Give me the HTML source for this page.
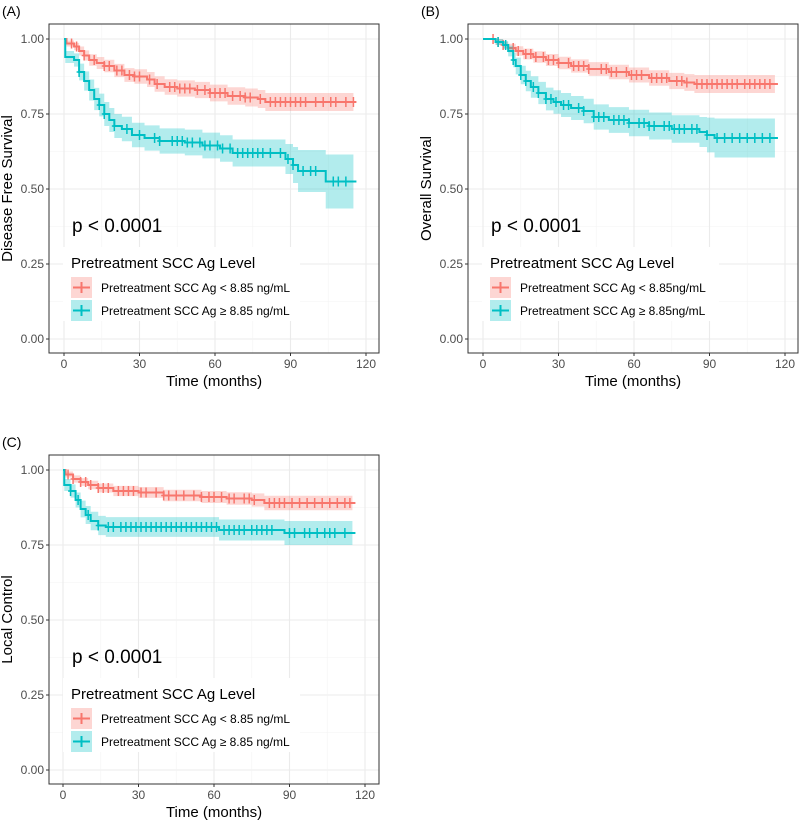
<!DOCTYPE html>
<html><head><meta charset="utf-8"><style>
body{margin:0;background:#fff}
svg{display:block;font-family:"Liberation Sans",sans-serif}
</style></head><body>
<svg id="chart" width="800" height="820" viewBox="0 0 800 820"></svg>
<script>
const xTicks=[0,30,60,90,120];
const yTicks=[0,0.25,0.5,0.75,1];
const yTickLabels=["0.00","0.25","0.50","0.75","1.00"];
// Panel A
const aLowT=[0,1,4,6,8,10,13,16,20,24,28,33,36,40,45,52,58,65,72,77,80,115];
const aLowS=[1,0.985,0.975,0.96,0.945,0.93,0.92,0.91,0.895,0.88,0.875,0.865,0.85,0.84,0.835,0.83,0.82,0.81,0.805,0.80,0.79,0.79];
const aLowCI=[0,0.01,0.012,0.015,0.017,0.019,0.02,0.021,0.022,0.023,0.024,0.025,0.026,0.026,0.027,0.027,0.028,0.029,0.03,0.03,0.03,0.03];
const aLowCens=[3,5,8,12,16,18,21,23,26,28,30,34,37,42,44,46,48,50,53,56,58,60,62,64,67,70,72,74,78,82,84,86,88,90,92,94,96,100,103,106,108,112,115];
const aHighT=[0,0.5,4,6,8,10,12,14,16,18,20,23,27,32,38,48,55,62,67,87,88,91,93,104,115];
const aHighS=[1,0.94,0.93,0.89,0.86,0.83,0.80,0.78,0.75,0.73,0.71,0.70,0.68,0.67,0.66,0.655,0.645,0.635,0.62,0.62,0.60,0.58,0.56,0.525,0.525];
const aHighCI=[0,0.02,0.022,0.028,0.032,0.035,0.037,0.038,0.04,0.04,0.04,0.041,0.041,0.042,0.042,0.043,0.043,0.044,0.045,0.045,0.05,0.06,0.07,0.09,0.09];
const aHighCens=[6,14,16,20,25,30,36,38,43,45,47,49,51,54,56,58,61,63,66,69,71,73,75,77,79,82,86,89,91,95,98,100,107,109,112];
// Panel B
const bLowT=[0,3,5,8,10,13,16,20,25,30,35,42,50,58,66,74,80,84,116];
const bLowS=[1,1,0.99,0.98,0.97,0.96,0.95,0.94,0.93,0.92,0.91,0.90,0.89,0.88,0.87,0.86,0.855,0.85,0.85];
const bLowCI=[0,0,0.01,0.012,0.014,0.016,0.018,0.019,0.02,0.021,0.022,0.023,0.024,0.025,0.026,0.027,0.028,0.03,0.03];
const bLowCens=[4,6,8,12,14,17,19,21,24,26,28,30,34,36,38,40,42,47,49,51,53,57,59,61,63,67,69,71,73,77,79,81,85,87,89,91,93,95,97,99,101,104,106,108,110,112,114];
const bHighT=[0,5,8,10,12,13,15,17,19,22,25,28,31,35,40,44,50,58,66,75,86,89,92,116];
const bHighS=[1,0.99,0.98,0.96,0.93,0.91,0.88,0.86,0.84,0.82,0.80,0.79,0.78,0.77,0.76,0.74,0.73,0.72,0.71,0.70,0.69,0.68,0.67,0.67];
const bHighCI=[0,0.01,0.012,0.018,0.024,0.028,0.031,0.034,0.036,0.037,0.038,0.039,0.04,0.04,0.041,0.042,0.043,0.044,0.045,0.046,0.05,0.058,0.065,0.065];
const bHighCens=[6,9,12,15,17,20,22,25,27,29,32,34,38,40,44,46,48,52,54,56,58,62,64,66,68,72,74,76,78,80,83,85,89,93,96,99,102,105,108,111,114];
// Panel C
const cLowT=[0,1,4,7,10,14,20,30,40,55,65,75,80,115];
const cLowS=[1,0.985,0.97,0.96,0.95,0.94,0.93,0.925,0.915,0.91,0.905,0.90,0.89,0.89];
const cLowCI=[0,0.01,0.012,0.013,0.014,0.015,0.017,0.018,0.019,0.02,0.021,0.022,0.024,0.024];
const cLowCens=[2,4,7,9,11,14,16,18,22,24,26,28,31,33,37,40,42,45,48,52,55,58,60,63,66,68,72,74,76,82,84,86,88,91,94,97,100,103,106,109,112,114];
const cHighT=[0,0.5,3,5,7,9,11,14,17,60,62,88,115];
const cHighS=[1,0.95,0.93,0.90,0.87,0.85,0.83,0.815,0.81,0.81,0.80,0.79,0.79];
const cHighCI=[0,0.02,0.022,0.025,0.028,0.03,0.031,0.032,0.033,0.033,0.035,0.04,0.04];
const cHighCens=[3,6,10,14,18,20,23,25,27,29,31,33,35,37,39,41,43,45,47,49,51,53,55,57,59,61,64,66,68,70,72,75,77,79,81,83,90,92,96,98,101,104,106,108,112];

const NS="http://www.w3.org/2000/svg";
const svg=document.getElementById('chart');
function mk(tag,attrs,parent,text){const e=document.createElementNS(NS,tag);for(const k in attrs)e.setAttribute(k,attrs[k]);if(text!==undefined)e.textContent=text;(parent||svg).appendChild(e);return e;}
const RED="#F8766D",TEAL="#00BFC4";

function panel(opt){
  const g=mk('g',{});
  
  
  const L=opt.bx,T=opt.by,R=L+330,B=T+329;
  const x0=opt.x0,x120=opt.x0+302;
  const X=t=>x0+(x120-x0)*t/120;
  const Y=v=>T+15+300*(1-v);
  const lab=mk('text',{x:opt.bx-47,y:T-8,'font-size':14,fill:'#000'},g,opt.label);
  
  
  mk('rect',{x:L,y:T,width:330,height:329,fill:'#fff'},g);
  for(let i=0;i<yTicks.length;i++){
    mk('line',{x1:L,x2:R,y1:Y(yTicks[i]),y2:Y(yTicks[i]),stroke:'#ebebeb','stroke-width':1.1},g);
    if(i<yTicks.length-1){const m=(yTicks[i]+yTicks[i+1])/2;mk('line',{x1:L,x2:R,y1:Y(m),y2:Y(m),stroke:'#f4f4f4','stroke-width':0.6},g);}
  }
  for(let i=0;i<xTicks.length;i++){
    mk('line',{x1:X(xTicks[i]),x2:X(xTicks[i]),y1:T,y2:B,stroke:'#ebebeb','stroke-width':1.1},g);
    if(i<xTicks.length-1){const m=(xTicks[i]+xTicks[i+1])/2;mk('line',{x1:X(m),x2:X(m),y1:T,y2:B,stroke:'#f4f4f4','stroke-width':0.6},g);}
  }
  function series(t,s,ci,cens,col,nm){
    let up='',lo='';
    for(let i=0;i<t.length;i++){
      const xa=X(t[i]),xb=X(i<t.length-1?t[i+1]:t[i]);
      up+=(i?'L':'M')+xa+','+Y(s[i]+ci[i])+'L'+xb+','+Y(s[i]+ci[i]);
    }
    for(let i=t.length-1;i>=0;i--){
      const xa=X(t[i]),xb=X(i<t.length-1?t[i+1]:t[i]);
      lo+='L'+xb+','+Y(s[i]-ci[i])+'L'+xa+','+Y(s[i]-ci[i]);
    }
    const band=mk('path',{d:up+lo+'Z',fill:col,'fill-opacity':0.3},g);
    
    
    let d='M'+X(t[0])+','+Y(s[0]);
    for(let i=1;i<t.length;i++){d+='H'+X(t[i])+'V'+Y(s[i]);}
    d+='H'+(X(t[t.length-1])+3);
    const ln=mk('path',{d:d,fill:'none',stroke:col,'stroke-width':2},g);
    
    
    for(const c of cens){
      let v=s[0];for(let i=0;i<t.length;i++){if(t[i]<=c)v=s[i];}
      const m=mk('path',{d:'M'+X(c)+','+(Y(v)-5)+'V'+(Y(v)+5)+'M'+(X(c)-2.5)+','+Y(v)+'H'+(X(c)+2.5),stroke:col,'stroke-width':1.5,fill:'none'},g);
      
      
    }
  }
  series(opt.lowT,opt.lowS,opt.lowCI,opt.lowC,RED,'low-scc');
  series(opt.highT,opt.highS,opt.highCI,opt.highC,TEAL,'high-scc');
  mk('rect',{x:L,y:T,width:330,height:329,fill:'none',stroke:'#333','stroke-width':1},g);
  for(let i=0;i<yTicks.length;i++){
    mk('line',{x1:L-3,x2:L,y1:Y(yTicks[i]),y2:Y(yTicks[i]),stroke:'#333'},g);
    const tl=mk('text',{x:L-5,y:Y(yTicks[i])+4,'font-size':12,fill:'#4d4d4d','text-anchor':'end'},g,yTickLabels[i]);
    
    
  }
  for(let i=0;i<xTicks.length;i++){
    mk('line',{x1:X(xTicks[i]),x2:X(xTicks[i]),y1:B,y2:B+3,stroke:'#333'},g);
    const tl=mk('text',{x:X(xTicks[i]),y:B+15,'font-size':12,fill:'#4d4d4d','text-anchor':'middle'},g,String(xTicks[i]));
    
    
  }
  const xt=mk('text',{x:(L+R)/2,y:B+33,'font-size':15,fill:'#000','text-anchor':'middle'},g,'Time (months)');
  
  
  const yt=mk('text',{x:0,y:0,'font-size':15,fill:'#000','text-anchor':'middle',transform:'translate('+(L-37)+','+((T+B)/2)+') rotate(-90)'},g,opt.ytitle);
  
  
  const pv=mk('text',{x:L+23,y:T+208,'font-size':19,fill:'#000'},g,'p < 0.0001');
  
  
  const lg=mk('g',{},g);
  
  
  mk('rect',{x:L+14,y:T+223,width:237,height:74,fill:'#fff'},lg);
  mk('text',{x:L+22,y:T+244,'font-size':15,fill:'#000'},lg,'Pretreatment SCC Ag Level');
  const items=[[RED,'Pretreatment SCC Ag < '+opt.unit],[TEAL,'Pretreatment SCC Ag \u2265 '+opt.unit]];
  items.forEach((it,k)=>{
    const yy=T+253+k*23;
    const e=mk('g',{},lg);
    
    
    mk('rect',{x:L+22,y:yy,width:21,height:21,fill:it[0],'fill-opacity':0.3},e);
    mk('path',{d:'M'+(L+24)+','+(yy+10.5)+'H'+(L+41)+'M'+(L+32.5)+','+(yy+5)+'V'+(yy+16),stroke:it[0],'stroke-width':2},e);
    mk('text',{x:L+52,y:yy+15,'font-size':12,fill:'#000'},e,it[1]);
  });
}
panel({name:'panel-a',label:'(A)',bx:49,by:24,x0:64,ytitle:'Disease Free Survival',unit:'8.85 ng/mL',
  lowT:aLowT,lowS:aLowS,lowCI:aLowCI,lowC:aLowCens,highT:aHighT,highS:aHighS,highCI:aHighCI,highC:aHighCens});
panel({name:'panel-b',label:'(B)',bx:468,by:24,x0:483,ytitle:'Overall Survival',unit:'8.85ng/mL',
  lowT:bLowT,lowS:bLowS,lowCI:bLowCI,lowC:bLowCens,highT:bHighT,highS:bHighS,highCI:bHighCI,highC:bHighCens});
panel({name:'panel-c',label:'(C)',bx:49,by:455,x0:63,ytitle:'Local Control',unit:'8.85 ng/mL',
  lowT:cLowT,lowS:cLowS,lowCI:cLowCI,lowC:cLowCens,highT:cHighT,highS:cHighS,highCI:cHighCI,highC:cHighCens});
</script>
</body></html>
